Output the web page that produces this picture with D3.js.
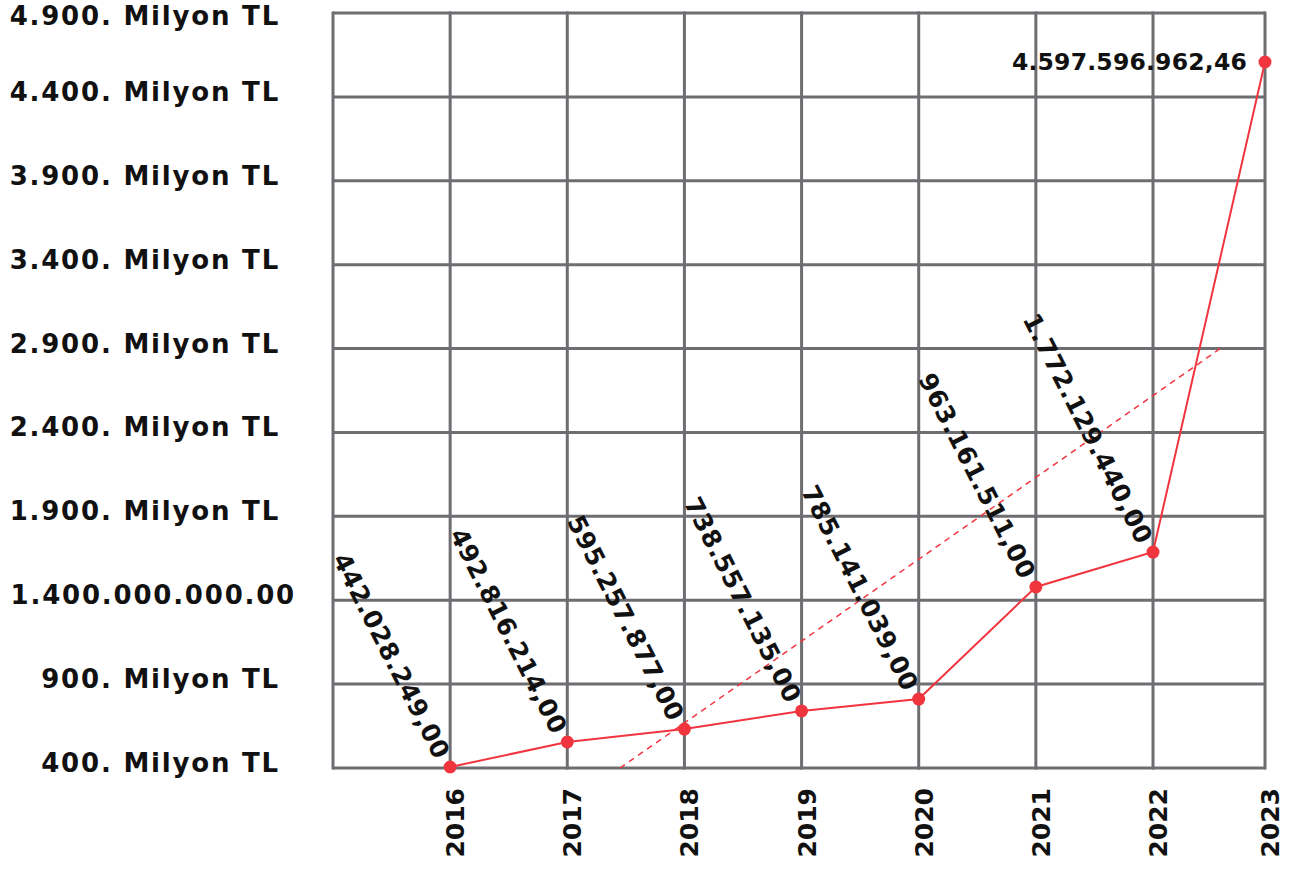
<!DOCTYPE html>
<html>
<head>
<meta charset="utf-8">
<script src="https://cdn.jsdelivr.net/npm/d3@7"></script>
<style>
  body { margin: 0; background: #fff; }
  text { font-family: "DejaVu Sans", sans-serif; font-weight: bold; fill: #111; }
</style>
</head>
<body>
<svg id="chart"></svg>
<script>
// years on the x axis
var years = [2016, 2017, 2018, 2019, 2020, 2021, 2022, 2023]
// values as plotted (million TL), read from the point positions
var plotted = [406, 555, 632, 740, 811, 1479, 1687, 4608]
// value labels written next to the points
var valueLabels = ["442.028.249,00", "492.816.214,00", "595.257.877,00", "738.557.135,00",
                   "785.141.039,00", "963.161.511,00", "1.772.129.440,00", "4.597.596.962,46"]
// y axis ticks and their labels
var yTicks = [400, 900, 1400, 1900, 2400, 2900, 3400, 3900, 4400, 4900]
var yTickLabels = ["400. Milyon TL", "900. Milyon TL", "1.400.000.000.00", "1.900. Milyon TL",
                   "2.400. Milyon TL", "2.900. Milyon TL", "3.400. Milyon TL", "3.900. Milyon TL",
                   "4.400. Milyon TL", "4.900. Milyon TL"]
// dashed trend line end points [year, value]
var trendX = [2017.45, 2022.62]
var trendY = [400, 2909]

var dimensions = {
        width: 1294,
        height: 872
}

var svg = d3.select("#chart")
        .attr("width", dimensions.width)
        .attr("height", dimensions.height)

var gridColor = "#6e6e72"
var red = "#f0353f"

var xScale = d3.scaleLinear()
        .domain([2015, 2022, 2023])
        .range([333, 1153, 1265])

var yScale = d3.scaleLinear()
        .domain([400, 4900])
        .range([768, 13])

var gridYears = [2015].concat(years)

// vertical grid
svg.append("g").selectAll("line")
        .data(gridYears)
        .enter()
        .append("line")
        .attr("x1", d => xScale(d))
        .attr("x2", d => xScale(d))
        .attr("y1", yScale(4900) - 1.5)
        .attr("y2", yScale(400) + 1.5)
        .attr("stroke", gridColor)
        .attr("stroke-width", 3)

// horizontal grid
svg.append("g").selectAll("line")
        .data(yTicks)
        .enter()
        .append("line")
        .attr("x1", xScale(2015))
        .attr("x2", xScale(2023))
        .attr("y1", d => yScale(d))
        .attr("y2", d => yScale(d))
        .attr("stroke", gridColor)
        .attr("stroke-width", 3)

// y labels
svg.append("g").selectAll("text")
        .data(yTicks)
        .enter()
        .append("text")
        .attr("x", (d, i) => yTickLabels[i].indexOf("Milyon") < 0 ? 296 : 280)
        .attr("y", d => yScale(d) + (d == 4900 ? 12 : 4))
        .attr("text-anchor", "end")
        .style("font-size", "26px")
        .style("letter-spacing", "1.8px")
        .text((d, i) => yTickLabels[i])

// year labels
svg.append("g").selectAll("text")
        .data(years)
        .enter()
        .append("text")
        .attr("transform", d => "translate(" + (xScale(d) + 14) + ",788) rotate(-90)")
        .attr("text-anchor", "end")
        .style("font-size", "25px")
        .text(d => d)

// trend line
svg.append("line")
        .attr("x1", xScale(trendX[0]))
        .attr("y1", yScale(trendY[0]))
        .attr("x2", xScale(trendX[1]))
        .attr("y2", yScale(trendY[1]))
        .attr("stroke", red)
        .attr("stroke-width", 1.5)
        .attr("stroke-dasharray", "6,5")

// main line
var line = d3.line()
        .x((d, i) => xScale(years[i]))
        .y(d => yScale(d))

svg.append("path")
        .datum(plotted)
        .attr("d", line)
        .attr("fill", "none")
        .attr("stroke", red)
        .attr("stroke-width", 2)

svg.append("g").selectAll("circle")
        .data(plotted)
        .enter()
        .append("circle")
        .attr("cx", (d, i) => xScale(years[i]))
        .attr("cy", d => yScale(d))
        .attr("r", 6.5)
        .attr("fill", red)

// value labels
svg.append("g").selectAll("text")
        .data(plotted)
        .enter()
        .append("text")
        .attr("transform", function (d, i) {
                var x = xScale(years[i]), y = yScale(d)
                if (i == plotted.length - 1) return "translate(" + (x - 18) + "," + (y + 8) + ")"
                return "translate(" + (x - 15) + "," + (y - 6) + ") rotate(63)"
        })
        .attr("text-anchor", "end")
        .style("font-size", function (d, i) { return i == plotted.length - 1 ? "23.5px" : "25px" })
        .style("letter-spacing", function (d, i) { return i == plotted.length - 1 ? "0.2px" : "0.5px" })
        .text((d, i) => valueLabels[i])
</script>
</body>
</html>
